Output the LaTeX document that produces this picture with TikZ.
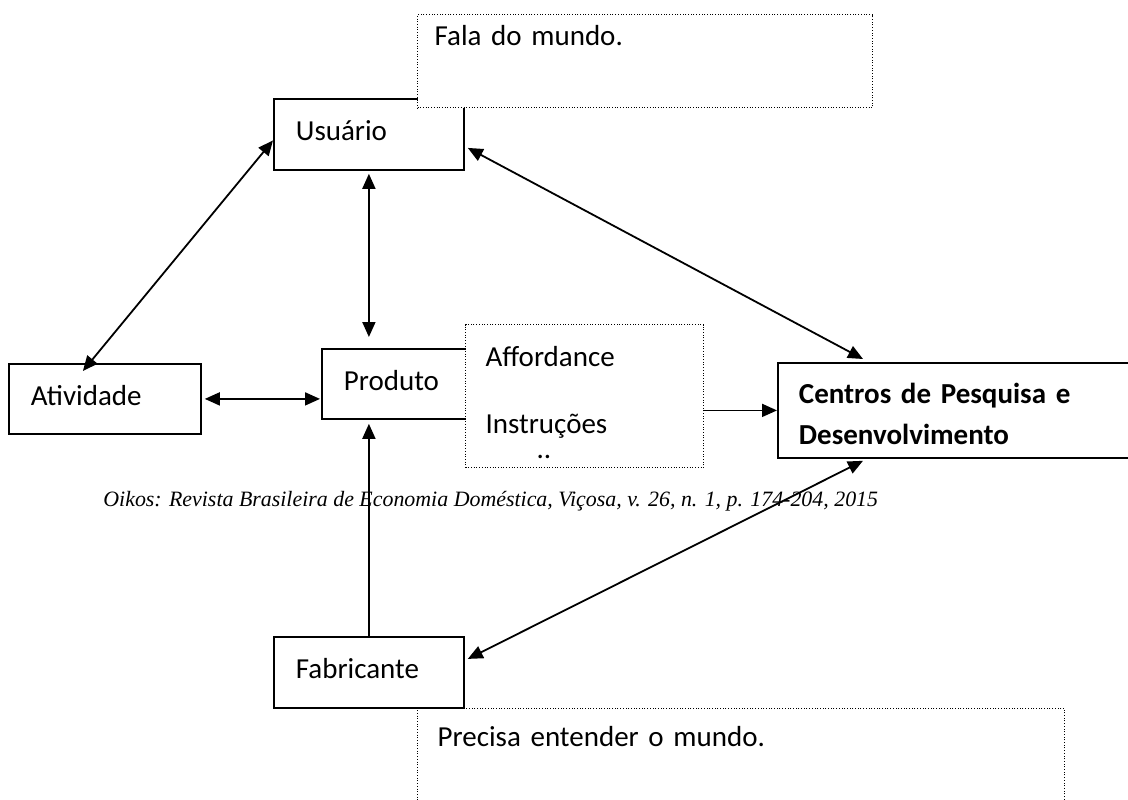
\documentclass[tikz,border=0pt]{standalone}
\usepackage{fontspec}
\setmainfont{Carlito}
\newfontfamily\oikosfont{Liberation Serif}
\usetikzlibrary{arrows.meta}

\begin{document}
\begin{tikzpicture}[x=0.5pt, y=-0.5pt, >={Triangle[length=7.5pt,width=6.5pt]},
		font=\fontsize{14.5}{17.4}\selectfont,
		box/.style={draw, line width=0.9pt, fill=white, anchor=north west, align=left, inner xsep=11pt, inner ysep=0pt},
		word/.style={box, text depth=3.5pt},
		note/.style={draw, line width=0.6pt, dash pattern=on 0.5pt off 0.85pt, fill=white, anchor=north west, align=left, inner xsep=10pt},
		link/.style={line width=0.9pt}]
		\useasboundingbox (0,0) rectangle (1128,799);
		\clip (0,0) rectangle (1128,799);
		
		% Boxes
		\node[word, text width=73pt, minimum height=35.5pt] (usuario) at (273,98) {Usuário};
		\node[note, text width=210.5pt, inner xsep=8.5pt, inner ysep=5.5pt, text depth=25.5pt] (fala) at (417,14) {Fala do mundo.};
		\node[word, text width=74pt, minimum height=35pt] (atividade) at (8,363) {Atividade};
		\node[word, text width=55pt, minimum height=35pt] (produto) at (321,348) {Produto};
		\node[note, text width=99pt, minimum height=71.5pt] (affordance) at (465,324) {\rule{0pt}{17pt}Affordance\\[16.1pt]Instruções\\[-4.9pt]\hspace*{25.5pt}..};
		\node[box, text width=178pt, minimum height=47.5pt, inner xsep=10.5pt, font=\bfseries\fontsize{14.5}{20.5}\selectfont] (centros) at (777,362) {\rule{0pt}{14pt}Centros de Pesquisa e\\Desenvolvimento};
		\node[word, text width=73pt, minimum height=35.5pt] (fabricante) at (273,636) {Fabricante};
		\node[note, text width=303.5pt, inner ysep=9pt, text depth=45pt] (precisa) at (417,708) {Precisa entender o mundo.};
		
		% Source line
		\node[anchor=base west, inner sep=0pt, font=\oikosfont\itshape\fontsize{10.95}{13}\selectfont] (fonte) at (103,506) {Oikos: Revista Brasileira de Economia Doméstica, Viçosa, v. 26, n. 1, p. 174-204, 2015};
		
		% Edges
		\draw[link, <->] ([yshift=-3pt]usuario.west) -- ([xshift=-11pt,yshift=-4pt]atividade.north);
		\draw[link, <->, shorten <=1.5pt, shorten >=5.5pt] (usuario.south) -- (usuario.south |- produto.north);
		\draw[link, <->] ([xshift=1.5pt,yshift=-6.75pt]usuario.east) -- ([xshift=43pt,yshift=1.5pt]centros.north west);
		\draw[link, <->, shorten <=1.5pt, shorten >=0.5pt] (atividade.east) -- (atividade.east -| produto.west);
		\draw[link, ->] (affordance.east |- centros.west) -- (centros.west);
		\draw[link, ->, shorten >=2pt] (fabricante.north) -- (fabricante.north |- produto.south);
		\draw[link, <->] ([xshift=1.5pt,yshift=6.75pt]fabricante.east) -- ([xshift=43pt,yshift=-1pt]centros.south west);
		
	\end{tikzpicture}
\end{document}
